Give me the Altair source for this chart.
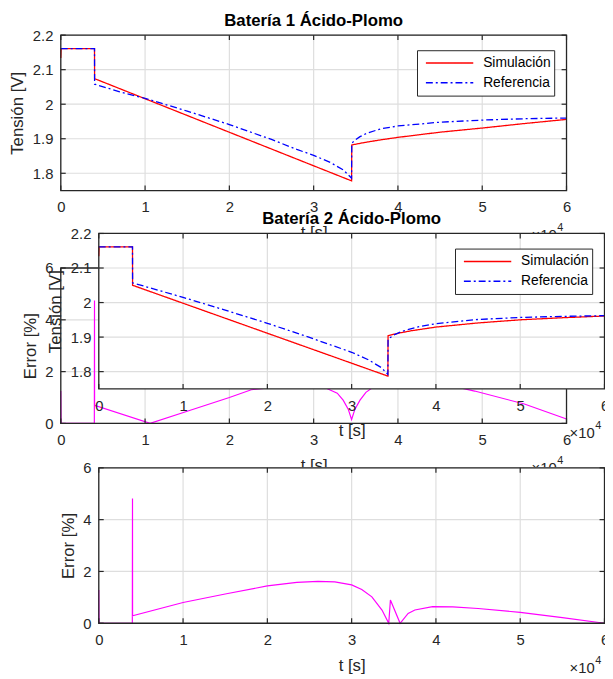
import altair as alt
import pandas as pd

FONT = "Liberation Sans"
DARK = "#262626"
GRID = "#dedede"
W, H = 605, 671

# ---------------- data ----------------
series_names = ["Simulación", "Referencia"]
series_colors = ["#ff0000", "#0000ff"]
series_dash = [[1, 0], [7, 3, 2, 3]]
x_ticks = [0, 1, 2, 3, 4, 5, 6]
v_ticks = [1.8, 1.9, 2.0, 2.1, 2.2]
e_ticks = [0, 2, 4, 6]
titles = ["Batería 1 Ácido-Plomo", "Batería 2 Ácido-Plomo"]
x_title = "t [s]"
v_title = "Tensión [V]"
e_title = "Error [%]"
exp_base = "×10"
exp_power = "4"

# Battery 1 (t in 10^4 s)
b1_sim_t = [0, 0.004, 0.4, 0.401, 3.45, 3.452, 3.6, 3.8, 4.0, 4.5, 5.0, 5.5, 6.0]
b1_sim_v = [2.134, 2.161, 2.161, 2.074, 1.778, 1.882, 1.889, 1.897, 1.904, 1.919, 1.931, 1.944, 1.956]
b1_ref_t = [0, 0.4, 0.401, 0.7, 1.0, 1.5, 2.0, 2.5, 2.8, 3.0, 3.2, 3.35, 3.45, 3.452, 3.48,
            3.55, 3.63, 3.8, 4.0, 4.5, 5.0, 5.5, 6.0]
b1_ref_v = [2.161, 2.161, 2.058, 2.036, 2.017, 1.98, 1.941, 1.898, 1.869, 1.852, 1.831, 1.81,
            1.786, 1.886, 1.894, 1.906, 1.916, 1.929, 1.937, 1.948, 1.954, 1.958, 1.960]
e1_t = [0, 0.003, 0.398, 0.4, 0.401, 1.06, 1.5, 2.0, 2.26, 2.5, 2.8, 3.0, 3.15, 3.28, 3.35, 3.41,
        3.45, 3.49, 3.55, 3.62, 3.75, 4.0, 4.5, 4.91, 5.5, 6.0]
e1_v = [1.25, 0, 0, 4.75, 0.7, 0, 0.47, 1.0, 1.3, 1.38, 1.45, 1.45, 1.36, 1.17, 0.9, 0.55,
        0.15, 0.55, 0.9, 1.2, 1.5, 1.72, 1.55, 1.25, 0.75, 0.17]

# Battery 2
b2_sim_t = [0, 0.004, 0.4, 0.401, 3.43, 3.432, 3.55, 3.7, 4.0, 4.5, 5.0, 5.5, 6.0]
b2_sim_v = [2.134, 2.161, 2.161, 2.050, 1.787, 1.904, 1.911, 1.918, 1.929, 1.941, 1.950, 1.956, 1.961]
b2_ref_t = [0, 0.4, 0.401, 1.0, 1.5, 2.0, 2.5, 3.0, 3.2, 3.35, 3.43, 3.432, 3.5, 3.6, 3.8,
            4.0, 4.5, 5.0, 5.5, 6.0]
b2_ref_v = [2.161, 2.161, 2.057, 2.015, 1.978, 1.940, 1.899, 1.856, 1.834, 1.812, 1.792, 1.894,
            1.906, 1.917, 1.930, 1.939, 1.951, 1.957, 1.960, 1.962]
e2_t = [0, 0.003, 0.398, 0.4, 0.401, 1.0, 1.5, 2.0, 2.35, 2.6, 2.8, 3.0, 3.12, 3.24, 3.36, 3.44,
        3.46, 3.575, 3.67, 3.75, 3.96, 4.2, 4.5, 5.0, 5.5, 6.0]
e2_v = [1.28, 0, 0, 4.82, 0.29, 0.8, 1.13, 1.44, 1.58, 1.62, 1.6, 1.48, 1.3, 1.02, 0.51, 0,
        0.9, 0, 0.38, 0.51, 0.64, 0.63, 0.57, 0.42, 0.22, 0.0]

# ---------------- layout (chart pixels: left, right, top, bottom) ----------------
P1 = (53.5, 566.0, 23.0, 180.5)
P2 = (53.5, 566.0, 259.0, 416.5)
P3 = (92.0, 604.5, 224.0, 381.5)
P4 = (92.0, 604.5, 461.5, 619.0)


def series_df(t, v, name):
    return pd.DataFrame({"t": t, "v": v, "s": [name] * len(t), "i": list(range(len(t)))})


def tension_body(sim_t, sim_v, ref_t, ref_v, geo):
    L, R, T, B = geo
    leg = alt.Legend(
        title=None, orient="none", legendX=R - 151.5, legendY=T + 15.3,
        direction="vertical", fillColor="white", strokeColor=DARK, padding=3,
        cornerRadius=0, symbolType="stroke", symbolSize=2304, symbolStrokeWidth=1.5,
        clipHeight=20, rowPadding=0, symbolOffset=5, labelOffset=9,
        labelFontSize=14, labelFont=FONT, labelColor="#000000",
    )
    dfs = [series_df(sim_t, sim_v, series_names[0]), series_df(ref_t, ref_v, series_names[1])]

    def make(X, Y):
        out = []
        for df in dfs:
            out.append(
                alt.Chart(df).mark_line(strokeWidth=1.3).encode(
                    x=X("t"), y=Y("v"),
                    color=alt.Color("s:N", scale=alt.Scale(domain=series_names, range=series_colors), legend=leg),
                    strokeDash=alt.StrokeDash("s:N", scale=alt.Scale(domain=series_names, range=series_dash), legend=leg),
                    order=alt.Order("i:Q"),
                )
            )
        return out
    return make


def error_body(t, v):
    df = series_df(t, v, "Error")

    def make(X, Y):
        return [
            alt.Chart(df).mark_line(strokeWidth=1.2, color="#ff00ff").encode(
                x=X("t"), y=Y("v"), order=alt.Order("i:Q"),
            )
        ]
    return make


def panel(geo, ydom, yticks, ytitle, ytitle_dx, body, title=None, axis_z=0):
    L, R, T, B = geo
    y0, y1 = ydom
    xs = alt.Scale(domain=[0, 6], range=[L, R], nice=False, zero=False)
    ys = alt.Scale(domain=ydom, range=[B, T], nice=False, zero=False)
    one = pd.DataFrame({"k": [0]})
    xt = pd.DataFrame({"v": x_ticks})
    yt = pd.DataFrame({"v": yticks})

    xaxis = alt.Axis(
        orient="bottom", offset=B - H, values=x_ticks, grid=False, domain=False,
        ticks=False, tickSize=0, labelPadding=9.5, labelFlush=False, labelOverlap=False,
        labelFontSize=15, labelFont=FONT, labelColor=DARK,
        title=x_title, titleFont=FONT, titleFontSize=17, titleFontWeight="normal",
        titleColor=DARK, titleX=(L + R) / 2, titleY=42.5, titleBaseline="middle",
        zindex=axis_z,
    )
    yaxis = alt.Axis(
        orient="left", offset=-L, values=yticks, format="~g", grid=False, domain=False,
        ticks=False, tickSize=0, labelPadding=8, labelFlush=False, labelOverlap=False,
        labelFontSize=15, labelFont=FONT, labelColor=DARK,
        title=ytitle, titleFont=FONT, titleFontSize=17, titleFontWeight="normal",
        titleColor=DARK, titleX=ytitle_dx, titleY=(T + B) / 2, titleAngle=270,
        titleBaseline="middle", zindex=axis_z,
    )

    def X(field):
        return alt.X(field + ":Q", scale=xs, axis=xaxis)

    def Y(field):
        return alt.Y(field + ":Q", scale=ys, axis=yaxis)

    def XD(val):
        return alt.XDatum(val, scale=xs, axis=xaxis)

    def YD(val):
        return alt.YDatum(val, scale=ys, axis=yaxis)

    bg = alt.Chart(one).mark_rect(fill="white", strokeWidth=0).encode(
        x=XD(0), x2=alt.X2Datum(6), y=YD(y0), y2=alt.Y2Datum(y1))
    gx = alt.Chart(xt).mark_rule(color=GRID, strokeWidth=1.2).encode(
        x=X("v"), y=YD(y0), y2=alt.Y2Datum(y1))
    gy = alt.Chart(yt).mark_rule(color=GRID, strokeWidth=1.2).encode(
        y=Y("v"), x=XD(0), x2=alt.X2Datum(6))
    frame = alt.Chart(one).mark_rect(filled=False, stroke=DARK, strokeWidth=1.3).encode(
        x=XD(0), x2=alt.X2Datum(6), y=YD(y0), y2=alt.Y2Datum(y1))
    tb = alt.Chart(xt).mark_rule(color=DARK, strokeWidth=1.2, y2Offset=-5).encode(
        x=X("v"), y=YD(y0), y2=alt.Y2Datum(y0))
    tt = alt.Chart(xt).mark_rule(color=DARK, strokeWidth=1.2, y2Offset=5).encode(
        x=X("v"), y=YD(y1), y2=alt.Y2Datum(y1))
    tl = alt.Chart(yt).mark_rule(color=DARK, strokeWidth=1.2, x2Offset=5).encode(
        y=Y("v"), x=XD(0), x2=alt.X2Datum(0))
    tr = alt.Chart(yt).mark_rule(color=DARK, strokeWidth=1.2, x2Offset=-5).encode(
        y=Y("v"), x=XD(6), x2=alt.X2Datum(6))
    e_a = alt.Chart(pd.DataFrame({"s": [exp_base]})).mark_text(
        align="right", baseline="middle", dx=-10, dy=45, fontSize=15, font=FONT, color=DARK
    ).encode(x=XD(6), y=YD(y0), text="s:N")
    e_b = alt.Chart(pd.DataFrame({"s": [exp_power]})).mark_text(
        align="left", baseline="middle", dx=-9.5, dy=38, fontSize=11, font=FONT, color=DARK
    ).encode(x=XD(6), y=YD(y0), text="s:N")

    layers = [bg, gx, gy] + body(X, Y) + [frame, tb, tt, tl, tr, e_a, e_b]
    if title is not None:
        layers.append(
            alt.Chart(pd.DataFrame({"s": [title]})).mark_text(
                align="center", baseline="middle", dy=-14.5, fontSize=17,
                fontWeight="bold", font=FONT, color="#000000"
            ).encode(x=XD(3), y=YD(y1), text="s:N")
        )
    return alt.layer(*layers)


p1 = panel(P1, [1.75, 2.2], v_ticks, v_title, -43.5,
           tension_body(b1_sim_t, b1_sim_v, b1_ref_t, b1_ref_v, P1), titles[0])
p2 = panel(P2, [0, 6], e_ticks, e_title, -30.7, error_body(e1_t, e1_v))
p3 = panel(P3, [1.75, 2.2], v_ticks, v_title, -43.5,
           tension_body(b2_sim_t, b2_sim_v, b2_ref_t, b2_ref_v, P3), titles[1], axis_z=1)
p4 = panel(P4, [0, 6], e_ticks, e_title, -30.7, error_body(e2_t, e2_v))

chart = (
    alt.layer(p1, p2, p3, p4)
    .resolve_scale(x="independent", y="independent", color="independent", strokeDash="independent")
    .properties(width=W, height=H, padding=0, autosize=alt.AutoSizeParams(type="none"),
                background="white")
    .configure_view(strokeWidth=0)
)

chart.save("out.html", embed_options={"renderer": "svg", "actions": False})
